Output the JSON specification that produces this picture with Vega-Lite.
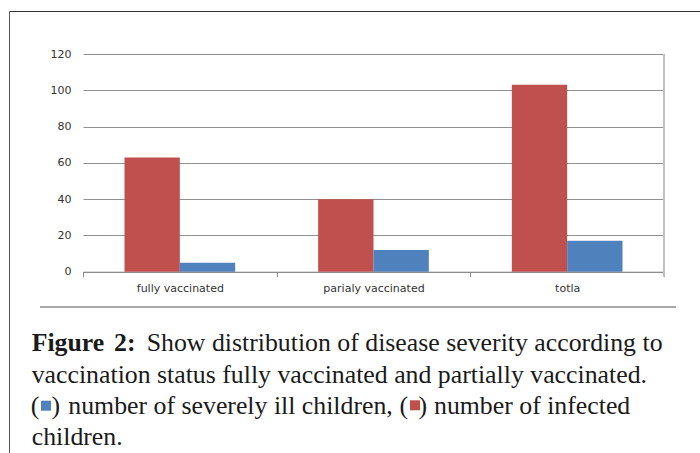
{
  "$schema": "https://vega.github.io/schema/vega-lite/v6.json",
  "width": 700,
  "height": 453,
  "autosize": {"type": "none"},
  "padding": 0,
  "background": "white",
  "config": {"view": {"stroke": null}},
  "layer": [
    {
      "data": {
        "values": [
          {"status": "fully vaccinated", "series": "number of infected children", "count": 63},
          {"status": "fully vaccinated", "series": "number of severely ill children", "count": 5},
          {"status": "parialy vaccinated", "series": "number of infected children", "count": 40},
          {"status": "parialy vaccinated", "series": "number of severely ill children", "count": 12},
          {"status": "totla", "series": "number of infected children", "count": 103},
          {"status": "totla", "series": "number of severely ill children", "count": 17}
        ]
      },
      "encoding": {
        "x": {
          "field": "status",
          "type": "nominal",
          "sort": null,
          "scale": {"range": [83, 664], "paddingInner": 0, "paddingOuter": 0},
          "axis": {
            "title": null,
            "offset": -181.3,
            "labelAngle": 0,
            "tickBand": "extent",
            "tickSize": 5,
            "tickColor": "#8c8c8c",
            "domainColor": "#8c8c8c",
            "labelFont": "DejaVu Sans",
            "labelFontSize": 11,
            "labelColor": "#333333",
            "labelPadding": 6,
            "grid": false
          }
        },
        "y": {
          "field": "count",
          "type": "quantitative",
          "scale": {"domain": [0, 120], "range": [271.7, 54], "nice": false},
          "axis": {
            "title": null,
            "values": [0, 20, 40, 60, 80, 100, 120],
            "offset": -83,
            "domain": false,
            "ticks": false,
            "labelPadding": 12,
            "labelFont": "DejaVu Sans",
            "labelFontSize": 11,
            "labelColor": "#333333",
            "grid": true,
            "gridColor": "#909090",
            "gridWidth": 1
          }
        }
      },
      "layer": [
        {
          "mark": {"type": "bar"},
          "encoding": {
            "xOffset": {
              "field": "series",
              "type": "nominal",
              "sort": ["number of infected children", "number of severely ill children"],
              "scale": {"paddingInner": 0, "paddingOuter": 0.75}
            },
            "color": {
              "field": "series",
              "type": "nominal",
              "scale": {
                "domain": ["number of infected children", "number of severely ill children"],
                "range": ["#C0504D", "#4F81BD"]
              },
              "legend": null
            }
          }
        },
        {
          "mark": {"type": "rule", "color": "#c0c0c0", "strokeWidth": 1.5},
          "encoding": {
            "x": {"datum": "totla", "bandPosition": 1},
            "y": {"datum": 120},
            "y2": {"datum": -2.5}
          }
        }
      ]
    },
    {
      "data": {"values": [{"k": 1}]},
      "encoding": {
        "x": {"type": "quantitative", "scale": {"domain": [0, 700], "range": [0, 700], "nice": false, "zero": false}, "axis": null},
        "y": {"type": "quantitative", "scale": {"domain": [0, 453], "range": [0, 453], "nice": false, "zero": false}, "axis": null}
      },
      "layer": [
        {
          "mark": {"type": "rule", "color": "#333333", "strokeWidth": 1},
          "encoding": {"x": {"datum": 9.5}, "x2": {"datum": 700}, "y": {"datum": 11.5}}
        },
        {
          "mark": {"type": "rule", "color": "#555555", "strokeWidth": 1},
          "encoding": {"x": {"datum": 9.5}, "y": {"datum": 11.5}, "y2": {"datum": 453}}
        },
        {
          "mark": {"type": "rule", "color": "#8c8c8c", "strokeWidth": 1.5},
          "encoding": {"x": {"datum": 40}, "x2": {"datum": 676}, "y": {"datum": 307}}
        },
        {
          "mark": {"type": "text", "text": "Figure", "font": "Liberation Serif", "fontSize": 25.8, "fontWeight": "bold", "align": "left", "baseline": "alphabetic", "color": "#1a1a1a"},
          "encoding": {"x": {"datum": 31.7}, "y": {"datum": 351.3}}
        },
        {
          "mark": {"type": "text", "text": "2:", "font": "Liberation Serif", "fontSize": 25.8, "fontWeight": "bold", "align": "left", "baseline": "alphabetic", "color": "#1a1a1a"},
          "encoding": {"x": {"datum": 114}, "y": {"datum": 351.3}}
        },
        {
          "mark": {"type": "text", "text": "Show distribution of disease severity according to", "font": "Liberation Serif", "fontSize": 25.8, "align": "left", "baseline": "alphabetic", "color": "#1a1a1a"},
          "encoding": {"x": {"datum": 146.7}, "y": {"datum": 351.3}}
        },
        {
          "mark": {"type": "text", "text": "vaccination status fully vaccinated and partially vaccinated.", "font": "Liberation Serif", "fontSize": 25.8, "align": "left", "baseline": "alphabetic", "color": "#1a1a1a"},
          "encoding": {"x": {"datum": 31.7}, "y": {"datum": 382.7}}
        },
        {
          "mark": {"type": "text", "text": "(", "font": "Liberation Serif", "fontSize": 25.8, "align": "left", "baseline": "alphabetic", "color": "#1a1a1a"},
          "encoding": {"x": {"datum": 30.7}, "y": {"datum": 414}}
        },
        {
          "mark": {"type": "rect", "color": "#4F81BD"},
          "encoding": {"x": {"datum": 41}, "x2": {"datum": 51}, "y": {"datum": 400.7}, "y2": {"datum": 410.7}}
        },
        {
          "mark": {"type": "text", "text": ")", "font": "Liberation Serif", "fontSize": 25.8, "align": "left", "baseline": "alphabetic", "color": "#1a1a1a"},
          "encoding": {"x": {"datum": 51.5}, "y": {"datum": 414}}
        },
        {
          "mark": {"type": "text", "text": "number of severely ill children,", "font": "Liberation Serif", "fontSize": 25.8, "align": "left", "baseline": "alphabetic", "color": "#1a1a1a"},
          "encoding": {"x": {"datum": 68.3}, "y": {"datum": 414}}
        },
        {
          "mark": {"type": "text", "text": "(", "font": "Liberation Serif", "fontSize": 25.8, "align": "left", "baseline": "alphabetic", "color": "#1a1a1a"},
          "encoding": {"x": {"datum": 399.5}, "y": {"datum": 414}}
        },
        {
          "mark": {"type": "rect", "color": "#C0504D"},
          "encoding": {"x": {"datum": 410}, "x2": {"datum": 420}, "y": {"datum": 400.3}, "y2": {"datum": 410.3}}
        },
        {
          "mark": {"type": "text", "text": ")", "font": "Liberation Serif", "fontSize": 25.8, "align": "left", "baseline": "alphabetic", "color": "#1a1a1a"},
          "encoding": {"x": {"datum": 418.5}, "y": {"datum": 414}}
        },
        {
          "mark": {"type": "text", "text": "number of infected", "font": "Liberation Serif", "fontSize": 25.8, "align": "left", "baseline": "alphabetic", "color": "#1a1a1a"},
          "encoding": {"x": {"datum": 434}, "y": {"datum": 414}}
        },
        {
          "mark": {"type": "text", "text": "children.", "font": "Liberation Serif", "fontSize": 25.8, "align": "left", "baseline": "alphabetic", "color": "#1a1a1a"},
          "encoding": {"x": {"datum": 31.7}, "y": {"datum": 445}}
        }
      ]
    }
  ],
  "resolve": {
    "scale": {"x": "independent", "y": "independent"},
    "axis": {"x": "independent", "y": "independent"}
  }
}
